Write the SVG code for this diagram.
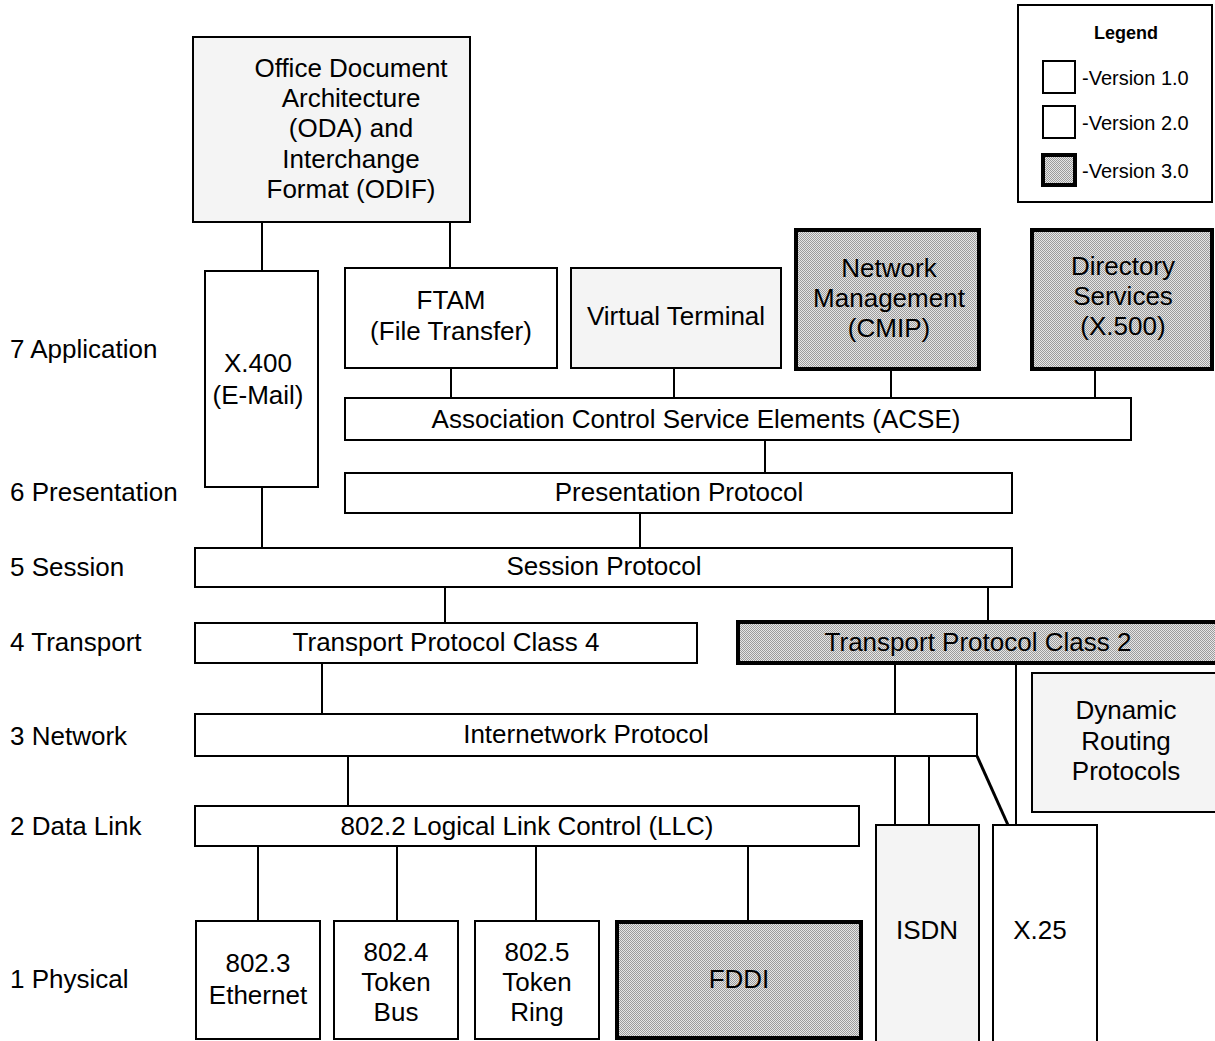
<svg xmlns="http://www.w3.org/2000/svg" width="1215" height="1041" viewBox="0 0 1215 1041">
<defs>
<pattern id="v3" patternUnits="userSpaceOnUse" width="2" height="2">
<rect width="2" height="2" fill="#e6e6e6"/>
<rect width="1" height="1" fill="#9c9c9c"/>
<rect x="1" y="1" width="1" height="1" fill="#9c9c9c"/>
</pattern>
<style>
text{font-family:"Liberation Sans",Arial,sans-serif;font-size:26px;fill:#000;text-anchor:middle}
.lbl{text-anchor:start}
.v1{fill:#fff;stroke:#000;stroke-width:2}
.v2{fill:#f4f4f4;stroke:#000;stroke-width:2}
.v3{fill:url(#v3);stroke:#000;stroke-width:4}
.leg{font-size:20px;text-anchor:start}
#connectors line,#connectors path{stroke:#000;stroke-width:2;fill:none}
</style>
</defs>
<rect width="1215" height="1041" fill="#fff"/>

<g id="layer-labels">
<text class="lbl" x="10" y="358">7 Application</text>
<text class="lbl" x="10" y="501">6 Presentation</text>
<text class="lbl" x="10" y="576">5 Session</text>
<text class="lbl" x="10" y="651">4 Transport</text>
<text class="lbl" x="10" y="745">3 Network</text>
<text class="lbl" x="10" y="835">2 Data Link</text>
<text class="lbl" x="10" y="988">1 Physical</text>
</g>

<g id="connectors">
<line x1="262" y1="222" x2="262" y2="271"/>
<line x1="450" y1="222" x2="450" y2="268"/>
<line x1="451" y1="368" x2="451" y2="398"/>
<line x1="674" y1="368" x2="674" y2="398"/>
<line x1="891" y1="369" x2="891" y2="398"/>
<line x1="1095" y1="369" x2="1095" y2="398"/>
<line x1="765" y1="440" x2="765" y2="473"/>
<line x1="640" y1="513" x2="640" y2="548"/>
<line x1="262" y1="487" x2="262" y2="548"/>
<line x1="445" y1="587" x2="445" y2="623"/>
<line x1="988" y1="587" x2="988" y2="621"/>
<line x1="322" y1="663" x2="322" y2="714"/>
<line x1="348" y1="756" x2="348" y2="806"/>
<line x1="258" y1="846" x2="258" y2="921"/>
<line x1="397" y1="846" x2="397" y2="921"/>
<line x1="536" y1="846" x2="536" y2="921"/>
<line x1="748" y1="846" x2="748" y2="921"/>
<line x1="895" y1="663" x2="895" y2="825"/>
<line x1="929" y1="756" x2="929" y2="825"/>
<line x1="1016" y1="663" x2="1016" y2="825"/>
<line x1="977" y1="756" x2="1008" y2="825" style="stroke-width:3"/>
</g>

<g id="legend">
<rect x="1018" y="5" width="194" height="197" fill="#fff" stroke="#000" stroke-width="2"/>
<text x="1126" y="39" style="font-size:18px;font-weight:bold">Legend</text>
<rect class="v1" x="1043" y="61" width="32" height="32"/>
<text class="leg" x="1082" y="85">-Version 1.0</text>
<rect class="v1" x="1043" y="106" width="32" height="32"/>
<text class="leg" x="1082" y="130">-Version 2.0</text>
<rect class="v3" x="1043" y="155" width="32" height="30"/>
<text class="leg" x="1082" y="178">-Version 3.0</text>
</g>

<g id="oda">
<rect class="v2" x="193" y="37" width="277" height="185"/>
<text x="351" y="77">Office Document</text>
<text x="351" y="107">Architecture</text>
<text x="351" y="137">(ODA) and</text>
<text x="351" y="168">Interchange</text>
<text x="351" y="198">Format (ODIF)</text>
</g>

<g id="x400">
<rect class="v1" x="205" y="271" width="113" height="216"/>
<text x="258" y="372">X.400</text>
<text x="258" y="404">(E-Mail)</text>
</g>

<g id="ftam">
<rect class="v1" x="345" y="268" width="212" height="100"/>
<text x="451" y="309">FTAM</text>
<text x="451" y="340">(File Transfer)</text>
</g>

<g id="vt">
<rect class="v2" x="571" y="268" width="210" height="100"/>
<text x="676" y="325">Virtual Terminal</text>
</g>

<g id="netmgmt">
<rect class="v3" x="796" y="230" width="183" height="139"/>
<text x="889" y="277">Network</text>
<text x="889" y="307">Management</text>
<text x="889" y="337">(CMIP)</text>
</g>

<g id="directory">
<rect class="v3" x="1032" y="230" width="180" height="139"/>
<text x="1123" y="275">Directory</text>
<text x="1123" y="305">Services</text>
<text x="1123" y="335">(X.500)</text>
</g>

<g id="acse">
<rect class="v1" x="345" y="398" width="786" height="42"/>
<text x="696" y="428">Association Control Service Elements (ACSE)</text>
</g>

<g id="presentation">
<rect class="v1" x="345" y="473" width="667" height="40"/>
<text x="679" y="501">Presentation Protocol</text>
</g>

<g id="session">
<rect class="v1" x="195" y="548" width="817" height="39"/>
<text x="604" y="575">Session Protocol</text>
</g>

<g id="tp4">
<rect class="v1" x="195" y="623" width="502" height="40"/>
<text x="446" y="651">Transport Protocol Class 4</text>
</g>

<g id="tp2">
<rect class="v3" x="738" y="622" width="480" height="41"/>
<text x="978" y="651">Transport Protocol Class 2</text>
</g>

<g id="ip">
<rect class="v1" x="195" y="714" width="782" height="42"/>
<text x="586" y="743">Internetwork Protocol</text>
</g>

<g id="routing">
<rect class="v2" x="1032" y="673" width="190" height="139"/>
<text x="1126" y="719">Dynamic</text>
<text x="1126" y="750">Routing</text>
<text x="1126" y="780">Protocols</text>
</g>

<g id="llc">
<rect class="v1" x="195" y="806" width="664" height="40"/>
<text x="527" y="835">802.2 Logical Link Control (LLC)</text>
</g>

<g id="ethernet">
<rect class="v1" x="196" y="921" width="124" height="118"/>
<text x="258" y="972">802.3</text>
<text x="258" y="1004">Ethernet</text>
</g>

<g id="tokenbus">
<rect class="v1" x="334" y="921" width="124" height="118"/>
<text x="396" y="961">802.4</text>
<text x="396" y="991">Token</text>
<text x="396" y="1021">Bus</text>
</g>

<g id="tokenring">
<rect class="v1" x="475" y="921" width="124" height="118"/>
<text x="537" y="961">802.5</text>
<text x="537" y="991">Token</text>
<text x="537" y="1021">Ring</text>
</g>

<g id="fddi">
<rect class="v3" x="617" y="922" width="244" height="116"/>
<text x="739" y="988">FDDI</text>
</g>

<g id="isdn">
<rect class="v2" x="876" y="825" width="103" height="220"/>
<text x="927" y="939">ISDN</text>
</g>

<g id="x25">
<rect class="v1" x="993" y="825" width="104" height="220"/>
<text x="1040" y="939">X.25</text>
</g>
</svg>
